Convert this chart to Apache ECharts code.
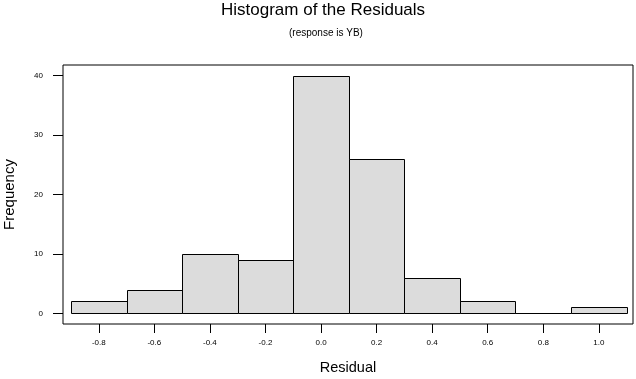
<!DOCTYPE html>
<html>
<head>
<meta charset="utf-8">
<script src="https://cdn.jsdelivr.net/npm/echarts@6/dist/echarts.min.js"></script>
<style>
  html, body { margin: 0; padding: 0; background: #fff; }
  #chart { width: 636px; height: 379px; }
</style>
</head>
<body>
<div id="chart"></div>
<script>
// bin edges (lower, upper) and counts
const binLow = [-0.9, -0.7, -0.5, -0.3, -0.1, 0.1, 0.3, 0.5, 0.7, 0.9];
const binHigh = [-0.7, -0.5, -0.3, -0.1, 0.1, 0.3, 0.5, 0.7, 0.9, 1.1];
const counts = [2, 4, 10, 9, 40, 26, 6, 2, 0, 1];
const xTicks = [-0.8, -0.6, -0.4, -0.2, 0.0, 0.2, 0.4, 0.6, 0.8, 1.0];
const yTicks = [0, 10, 20, 30, 40];

const font = 'Arial, "Liberation Sans", sans-serif';

const data = binLow.map((lo, i) => [lo, binHigh[i], counts[i]]);

const chart = echarts.init(document.getElementById('chart'));

const option = {
  animation: false,
  backgroundColor: '#fff',
  title: [
    {
      text: 'Histogram of the Residuals',
      left: 216,
      top: -3,
      textStyle: { fontFamily: font, fontSize: 17, fontWeight: 'normal', color: '#000' }
    },
    {
      text: '(response is YB)',
      left: 284,
      top: 23,
      textStyle: { fontFamily: font, fontSize: 10, fontWeight: 'normal', color: '#000' }
    }
  ],
  grid: {
    left: 63,
    right: 3,
    top: 65,
    bottom: 55,
    outerBoundsMode: 'none',
    show: true,
    borderColor: '#000',
    borderWidth: 1,
    backgroundColor: 'transparent'
  },
  xAxis: {
    type: 'value',
    min: -0.9288,
    max: 1.123,
    name: 'Residual',
    nameLocation: 'middle',
    nameGap: 36,
    nameTextStyle: { fontFamily: font, fontSize: 14.5, color: '#000' },
    axisLine: { show: false, onZero: false },
    splitLine: { show: false },
    axisTick: {
      show: true,
      length: 9,
      inside: false,
      customValues: xTicks,
      lineStyle: { color: '#000', width: 1 }
    },
    axisLabel: {
      customValues: xTicks,
      margin: 15,
      fontFamily: font,
      fontSize: 8,
      color: '#000',
      formatter: v => v.toFixed(1)
    }
  },
  yAxis: {
    type: 'value',
    min: -1.8,
    max: 41.8,
    name: 'Frequency',
    nameLocation: 'middle',
    nameGap: 46,
    nameTextStyle: { fontFamily: font, fontSize: 15, color: '#000' },
    axisLine: { show: false, onZero: false },
    splitLine: { show: false },
    axisTick: {
      show: true,
      length: 10,
      inside: false,
      customValues: yTicks,
      lineStyle: { color: '#000', width: 1 }
    },
    axisLabel: {
      customValues: yTicks,
      margin: 20,
      fontFamily: font,
      fontSize: 8,
      color: '#000'
    }
  },
  series: [
    {
      type: 'custom',
      data: data,
      encode: { x: [0, 1], y: 2 },
      renderItem: function (params, api) {
        const p0 = api.coord([api.value(0), 0]);
        const p1 = api.coord([api.value(1), api.value(2)]);
        return {
          type: 'rect',
          shape: {
            x: Math.round(p0[0]) + 0.5,
            y: Math.round(p1[1]) + 0.5,
            width: Math.round(p1[0]) - Math.round(p0[0]),
            height: Math.round(p0[1]) - Math.round(p1[1])
          },
          style: { fill: '#dcdcdc', stroke: '#000', lineWidth: 1 }
        };
      }
    }
  ]
};

chart.setOption(option);
</script>
</body>
</html>
